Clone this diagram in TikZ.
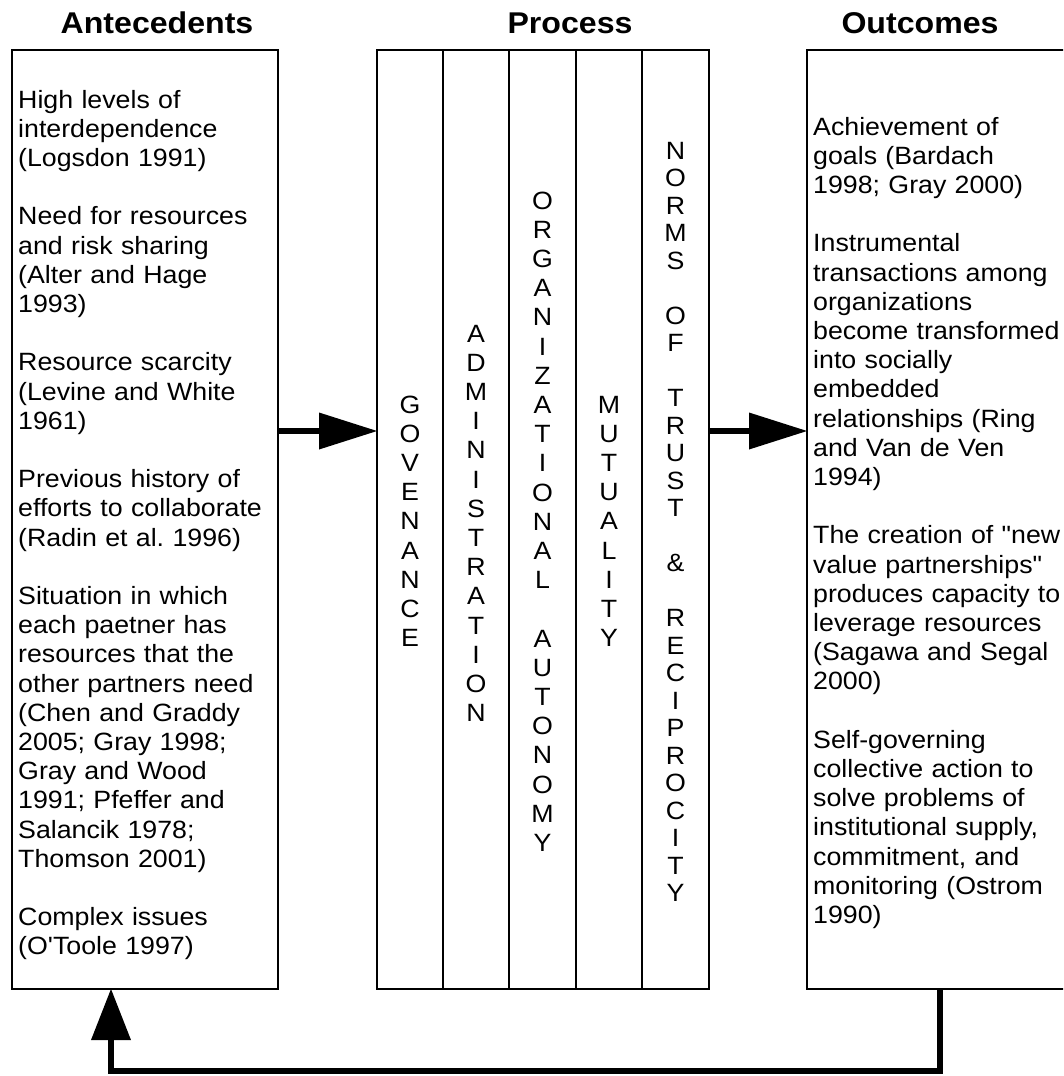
\documentclass[tikz,border=0pt]{standalone}
\usepackage{fontspec}
\setmainfont{Liberation Sans}[FakeStretch=1.07, Ligatures=TeXOff]
\usetikzlibrary{arrows.meta}
\frenchspacing
\begin{document}
\begin{tikzpicture}[x=1pt, y=-1pt,
  box/.style={draw, line width=1.8pt, inner sep=0pt, outer sep=0pt, anchor=north west},
  body/.style={font=\fontsize{25}{29.2}\selectfont, text width=300pt, align=left, inner sep=0pt, anchor=base west},
  head/.style={font=\bfseries\fontsize{30}{36}\selectfont, anchor=base, inner sep=0pt},
  stack/.style={font=\fontsize{25}{29.2}\selectfont, text width=60pt, align=center, inner sep=0pt, anchor=base},
  tightstack/.style={stack, font=\fontsize{25}{27.5}\selectfont},
  flow/.style={line width=6pt, -{Triangle[length=58pt, width=37pt, line width=0pt]}},
  feedback/.style={line width=6pt, -{Triangle[length=51pt, width=40pt, line width=0pt]}},
]
\clip (0,0) rectangle (1063,1076);

% column headings
\node[head] (hante) at (157,33) {Antecedents};
\node[head] (hproc) at (570,33) {Process};
\node[head] (hout)  at (920,33) {Outcomes};

% the three frames
\node[box, minimum width=266pt, minimum height=939pt] (ante) at (12,50) {};
\node[box, minimum width=66pt, minimum height=939pt] (gov) at (377,50) {};
\node[box, minimum width=66pt, minimum height=939pt] (adm) at (443,50) {};
\node[box, minimum width=67pt, minimum height=939pt] (org) at (509,50) {};
\node[box, minimum width=66pt, minimum height=939pt] (mut) at (576,50) {};
\node[box, minimum width=67pt, minimum height=939pt] (nrm) at (642,50) {};
\node[box, minimum width=290pt, minimum height=939pt] (out) at (807,50) {};

% antecedents
\node[body] (antetext) at (18,108) {High levels of\\interdependence\\(Logsdon 1991)\\[29.2pt]
Need for resources\\and risk sharing\\(Alter and Hage\\1993)\\[29.2pt]
Resource scarcity\\(Levine and White\\1961)\\[29.2pt]
Previous history of\\efforts to collaborate\\(Radin et al. 1996)\\[29.2pt]
Situation in which\\each paetner has\\resources that the\\other partners need\\(Chen and Graddy\\2005; Gray 1998;\\Gray and Wood\\1991; Pfeffer and\\Salancik 1978;\\Thomson 2001)\\[29.2pt]
Complex issues\\(O'Toole 1997)};

% outcomes
\node[body] (outtext) at (813,135) {Achievement of\\goals (Bardach\\1998; Gray 2000)\\[29.2pt]
Instrumental\\transactions among\\organizations\\become transformed\\into socially\\embedded\\relationships (Ring\\and Van de Ven\\1994)\\[29.2pt]
The creation of "new\\value partnerships"\\produces capacity to\\leverage resources\\(Sagawa and Segal\\2000)\\[29.2pt]
Self-governing\\collective action to\\solve problems of\\institutional supply,\\commitment, and\\monitoring (Ostrom\\1990)};

% process columns, letters stacked vertically
\node[stack] (govtext) at (gov.center |- 0,413) {G\\O\\V\\E\\N\\A\\N\\C\\E};
\node[stack] (admtext) at (adm.center |- 0,342) {A\\D\\M\\I\\N\\I\\S\\T\\R\\A\\T\\I\\O\\N};
\node[stack] (orgtext) at (org.center |- 0,209) {O\\R\\G\\A\\N\\I\\Z\\A\\T\\I\\O\\N\\A\\L\\[29.2pt]A\\U\\T\\O\\N\\O\\M\\Y};
\node[stack] (muttext) at (mut.center |- 0,413) {M\\U\\T\\U\\A\\L\\I\\T\\Y};
\node[tightstack] (nrmtext) at (nrm.center |- 0,159) {N\\O\\R\\M\\S\\[27.5pt]O\\F\\[27.5pt]T\\R\\U\\S\\T\\[27.5pt]\&\\[27.5pt]R\\E\\C\\I\\P\\R\\O\\C\\I\\T\\Y};

% connectors
\coordinate (row) at (0,431);
\coordinate (fbR) at (940,1071);
\coordinate (fbL) at (111,1071);
\draw[flow] (ante.east |- row) -- (gov.west |- row);
\draw[flow] (nrm.east |- row) -- (out.west |- row);
\draw[feedback] (out.south -| fbR) -- (fbR) -- (fbL) -- (ante.south -| fbL);
\end{tikzpicture}
\end{document}
